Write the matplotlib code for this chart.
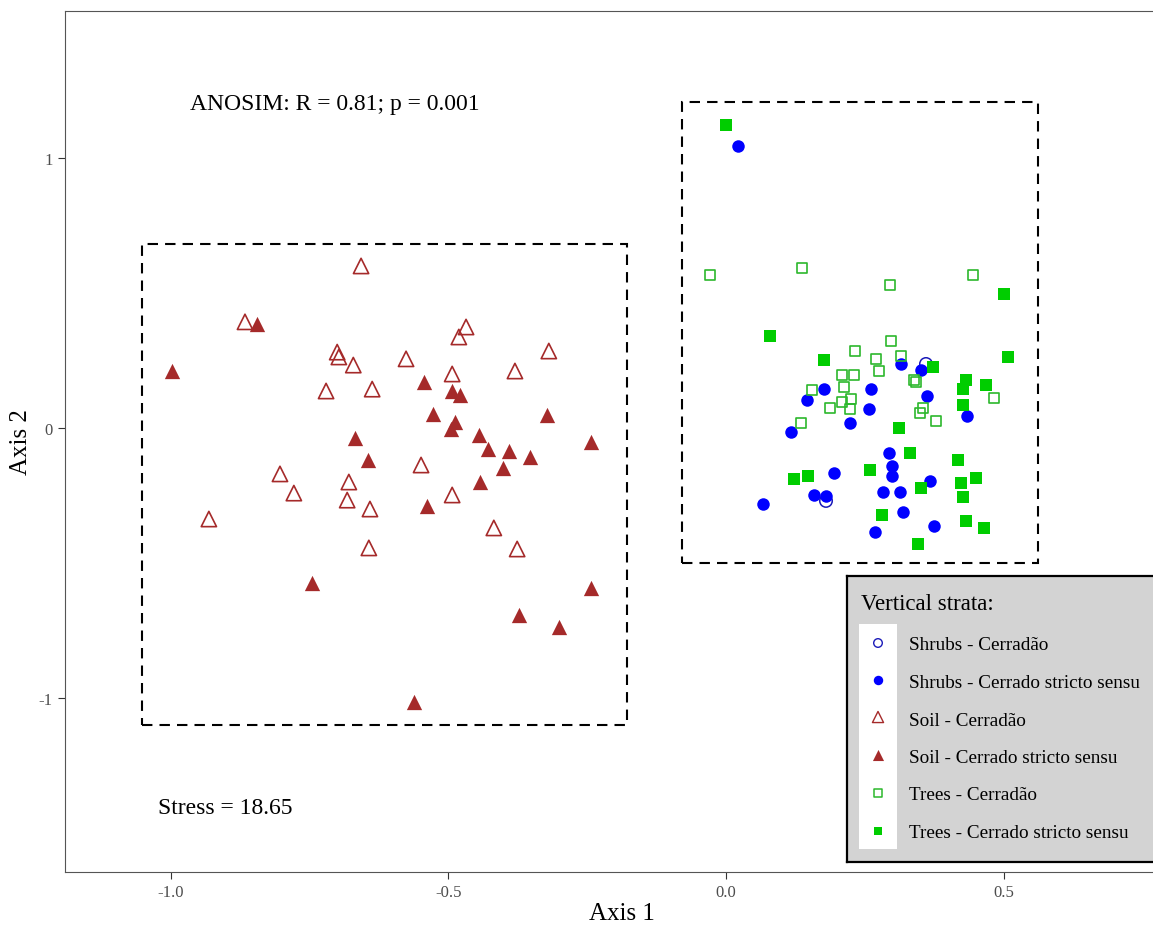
import matplotlib
matplotlib.use("Agg")
import matplotlib.pyplot as plt
from matplotlib.patches import Rectangle

plt.rcParams['font.family'] = ['Liberation Serif', 'DejaVu Serif']

# ---------------- data (NMDS scores) ----------------
shrubs_cerradao_x = [0.360, 0.180]
shrubs_cerradao_y = [0.237, -0.270]

shrubs_css_x = [0.022, 0.176, 0.261, 0.146, 0.257, 0.223, 0.117, 0.194, 0.158, 0.180,
                0.067, 0.315, 0.351, 0.362, 0.434, 0.293, 0.299, 0.299, 0.367, 0.283,
                0.313, 0.319, 0.374, 0.268]
shrubs_css_y = [1.044, 0.144, 0.144, 0.104, 0.070, 0.019, -0.015, -0.167, -0.248, -0.252,
                -0.281, 0.237, 0.215, 0.119, 0.044, -0.093, -0.141, -0.178, -0.196, -0.237,
                -0.237, -0.311, -0.363, -0.385]

soil_cerradao_x = [-0.657, -0.866, -0.700, -0.697, -0.671, -0.576, -0.720, -0.637, -0.468, -0.481,
                   -0.319, -0.493, -0.380, -0.549, -0.803, -0.679, -0.778, -0.682, -0.641, -0.931,
                   -0.643, -0.493, -0.418, -0.376]
soil_cerradao_y = [0.600, 0.393, 0.281, 0.263, 0.233, 0.256, 0.137, 0.144, 0.374, 0.337,
                   0.285, 0.200, 0.211, -0.137, -0.170, -0.200, -0.241, -0.267, -0.300, -0.337,
                   -0.444, -0.248, -0.370, -0.448]

soil_css_x = [-0.997, -0.844, -0.668, -0.644, -0.544, -0.493, -0.479, -0.527, -0.488, -0.495,
              -0.322, -0.445, -0.428, -0.391, -0.353, -0.243, -0.401, -0.745, -0.443, -0.538,
              -0.243, -0.373, -0.301, -0.562]
soil_css_y = [0.211, 0.385, -0.037, -0.119, 0.170, 0.137, 0.122, 0.052, 0.022, -0.004,
              0.048, -0.026, -0.078, -0.085, -0.107, -0.052, -0.148, -0.574, -0.200, -0.289,
              -0.593, -0.693, -0.737, -1.015]

trees_cerradao_x = [-0.029, 0.137, 0.295, 0.445, 0.297, 0.232, 0.270, 0.315, 0.275, 0.338,
                    0.342, 0.209, 0.230, 0.155, 0.212, 0.209, 0.225, 0.187, 0.223, 0.135,
                    0.355, 0.349, 0.482, 0.378]
trees_cerradao_y = [0.567, 0.593, 0.530, 0.567, 0.322, 0.285, 0.256, 0.267, 0.211, 0.178,
                    0.170, 0.196, 0.196, 0.141, 0.152, 0.096, 0.107, 0.074, 0.070, 0.019,
                    0.074, 0.056, 0.111, 0.026]

trees_css_x = [0.000, 0.500, 0.079, 0.176, 0.373, 0.508, 0.432, 0.427, 0.468, 0.427,
               0.311, 0.259, 0.122, 0.148, 0.331, 0.418, 0.450, 0.423, 0.351, 0.427,
               0.281, 0.432, 0.464, 0.346]
trees_css_y = [1.122, 0.496, 0.341, 0.252, 0.226, 0.263, 0.178, 0.144, 0.159, 0.085,
               0.000, -0.156, -0.189, -0.178, -0.093, -0.119, -0.185, -0.204, -0.222, -0.256,
               -0.322, -0.344, -0.370, -0.430]

group_labels = ["Shrubs - Cerradão", "Shrubs - Cerrado stricto sensu",
                "Soil - Cerradão", "Soil - Cerrado stricto sensu",
                "Trees - Cerradão", "Trees - Cerrado stricto sensu"]

# grouping boxes (data extents)
box_soil = [-1.051, -0.178, -1.100, 0.681]     # xmin, xmax, ymin, ymax
box_plants = [-0.079, 0.562, -0.500, 1.207]

x_ticks = [-1.0, -0.5, 0.0, 0.5]
x_ticklabels = ["-1.0", "-0.5", "0.0", "0.5"]
y_ticks = [-1, 0, 1]
y_ticklabels = ["-1", "0", "1"]

anosim_text = "ANOSIM: R = 0.81; p = 0.001"
stress_text = "Stress = 18.65"

# ---------------- styles ----------------
BLUE = '#0000ff'
BLUE_OPEN = '#1a1ab8'
BROWN = '#a52a2a'
GREEN = '#00cd00'
GREEN_OPEN = '#2cb82c'

styles = [
    dict(marker='o', s=9**2, facecolors='none', edgecolors=BLUE_OPEN, linewidths=1.1),
    dict(marker='o', s=9**2, c=BLUE, linewidths=0),
    dict(marker='^', s=11**2, facecolors='none', edgecolors=BROWN, linewidths=1.2),
    dict(marker='^', s=11**2, c=BROWN, linewidths=0),
    dict(marker='s', s=7.3**2, facecolors='none', edgecolors=GREEN_OPEN, linewidths=1.2),
    dict(marker='s', s=8.1**2, c=GREEN, linewidths=0),
]
series = [(shrubs_cerradao_x, shrubs_cerradao_y), (shrubs_css_x, shrubs_css_y),
          (soil_cerradao_x, soil_cerradao_y), (soil_css_x, soil_css_y),
          (trees_cerradao_x, trees_cerradao_y), (trees_css_x, trees_css_y)]

W, H = 1153, 928
fig = plt.figure(figsize=(W / 100, H / 100), dpi=100)
fig.patch.set_facecolor('white')

# main panel (extends slightly beyond the right edge, as in the cropped original)
ax = fig.add_axes([65 / W, (H - 873) / H, (1179 - 65) / W, (873 - 12) / H])
ax.set_xlim(-1.190, 0.8155)
ax.set_ylim(-1.644, 1.544)

for (xs, ys), st in zip(series, styles):
    ax.scatter(xs, ys, zorder=3, **st)

for b in (box_soil, box_plants):
    ax.add_patch(Rectangle((b[0], b[2]), b[1] - b[0], b[3] - b[2], fill=False,
                           edgecolor='black', linewidth=1.5, linestyle=(0, (5, 3.4)), zorder=2))

ax.text(-0.965, 1.20, anosim_text, fontsize=17, ha='left', va='center')
ax.text(-1.023, -1.404, stress_text, fontsize=17, ha='left', va='center')

ax.set_xticks(x_ticks)
ax.set_xticklabels(x_ticklabels)
ax.set_yticks(y_ticks)
ax.set_yticklabels(y_ticklabels)
ax.tick_params(axis='both', labelsize=12, labelcolor='#4d4d4d', color='#333333',
               length=5, width=0.8, pad=4)
for sp in ax.spines.values():
    sp.set_color('#555555')
    sp.set_linewidth(0.8)
ax.set_xlabel("Axis 1", fontsize=18, labelpad=1)
ax.set_ylabel("Axis 2", fontsize=18, labelpad=5)

# ---------------- legend (drawn as its own small panel) ----------------
L0, L1, T0, T1 = 847, 1175, 577, 863
lax = fig.add_axes([L0 / W, (H - T1) / H, (L1 - L0) / W, (T1 - T0) / H], zorder=5)
lax.set_xlim(L0, L1)
lax.set_ylim(T1, T0)
lax.set_facecolor('#d3d3d3')
lax.set_xticks([])
lax.set_yticks([])
for sp in lax.spines.values():
    sp.set_color('black')
    sp.set_linewidth(1.6)
lax.add_patch(Rectangle((859, 625), 38, 225, facecolor='white', edgecolor='none'))
lax.text(861, 610, "Vertical strata:", fontsize=16.5, ha='left', va='baseline')

key_y = [644, 681, 718, 756, 794, 832]
text_base = [650, 688, 726, 763, 800, 838]
leg_styles = [
    dict(marker='o', s=6.2**2, facecolors='none', edgecolors=BLUE_OPEN, linewidths=1.0),
    dict(marker='o', s=6.8**2, c=BLUE, linewidths=0),
    dict(marker='^', s=8**2, facecolors='none', edgecolors=BROWN, linewidths=1.0),
    dict(marker='^', s=8**2, c=BROWN, linewidths=0),
    dict(marker='s', s=5.5**2, facecolors='none', edgecolors=GREEN_OPEN, linewidths=1.1),
    dict(marker='s', s=5.8**2, c=GREEN, linewidths=0),
]
for lab, ky, tb, st in zip(group_labels, key_y, text_base, leg_styles):
    lax.scatter([878], [ky], zorder=3, clip_on=False, **st)
    lax.text(909, tb, lab, fontsize=13.8, ha='left', va='baseline')

fig.savefig("out.png", dpi=100)
